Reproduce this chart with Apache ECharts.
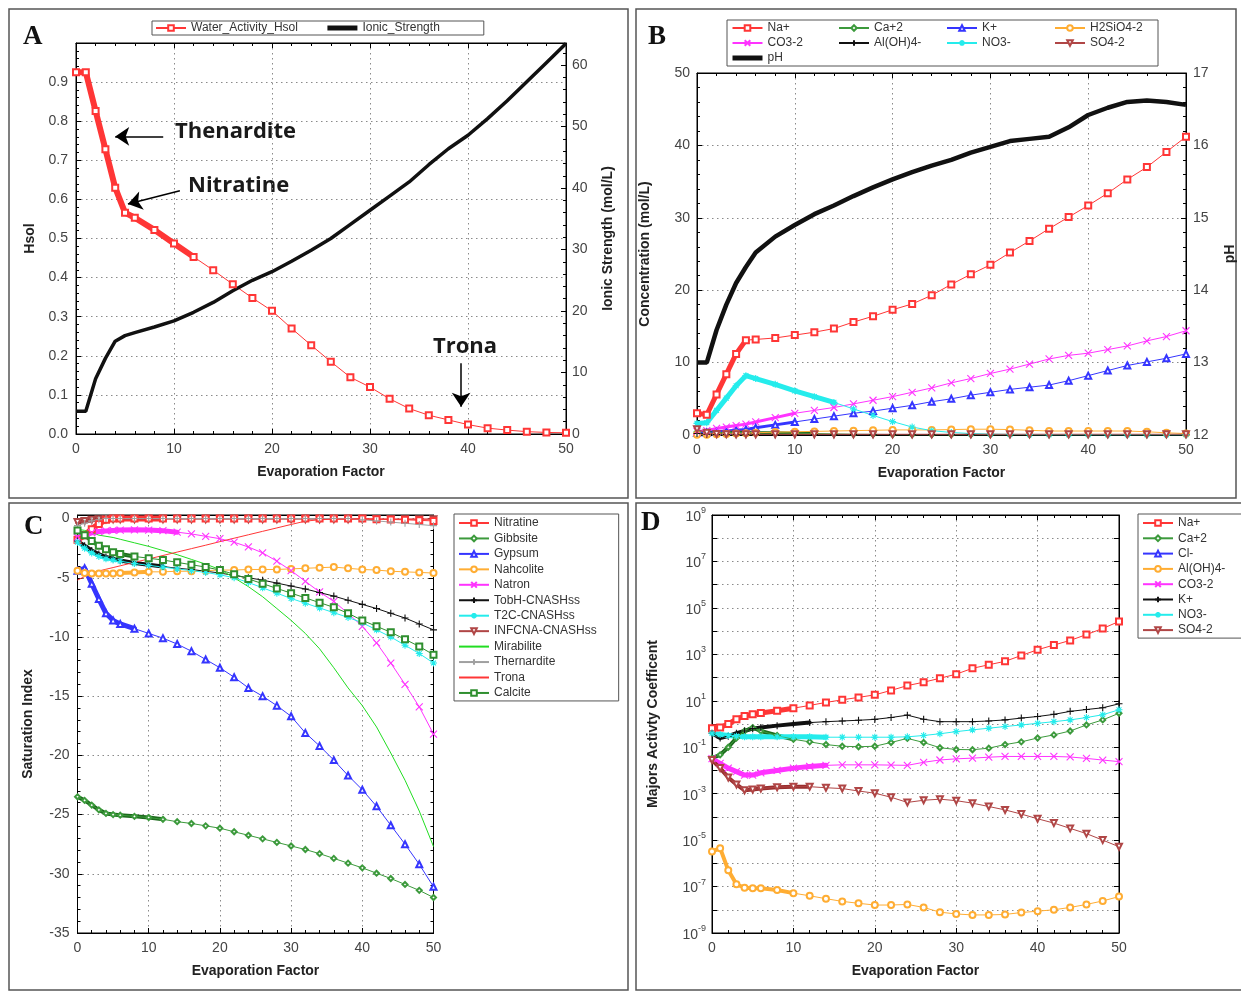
<!DOCTYPE html>
<html>
<head>
<meta charset="utf-8">
<script src="https://cdn.jsdelivr.net/npm/echarts@6/dist/echarts.min.js"></script>
<style>
html, body { margin: 0; padding: 0; background: #fff; }
#chartDiv { width: 1241px; height: 993px; }
</style>
</head>
<body>
<div id="chartDiv"></div>
<script>
// 初始化图表
let myChart = echarts.init(document.getElementById('chartDiv'));
window.onresize = myChart.resize;

// Evaporation Factor (shared x samples)
const EF = [0, 1, 2, 3, 4, 5, 6, 8, 10, 12, 14, 16, 18, 20, 22, 24, 26, 28, 30, 32, 34, 36, 38, 40, 42, 44, 46, 48, 50];

// A: water activity / ionic strength
const hsol = [0.925, 0.925, 0.826, 0.728, 0.63, 0.566, 0.553, 0.522, 0.487, 0.453, 0.419, 0.383, 0.348, 0.315, 0.27, 0.227, 0.185, 0.145, 0.12, 0.09, 0.065, 0.048, 0.036, 0.024, 0.015, 0.01, 0.006, 0.004, 0.003];
const ionic = [3.7, 3.7, 9.0, 12.3, 15.1, 16.0, 16.5, 17.4, 18.4, 19.8, 21.4, 23.3, 25.0, 26.4, 28.1, 29.9, 31.8, 34.1, 36.4, 38.7, 41.0, 43.8, 46.4, 48.6, 51.3, 54.2, 57.3, 60.4, 63.5];

// B: concentrations (mol/L) and pH
const bNa = [3.0, 2.8, 5.6, 8.4, 11.2, 13.1, 13.2, 13.4, 13.8, 14.2, 14.7, 15.6, 16.4, 17.3, 18.1, 19.3, 20.8, 22.2, 23.5, 25.2, 26.8, 28.5, 30.1, 31.7, 33.4, 35.3, 37.0, 39.1, 41.2];
const bCa = [0.4, 0.35, 0.35, 0.35, 0.35, 0.35, 0.3, 0.3, 0.25, 0.2, 0.15, 0.1, 0.08, 0.06, 0.05, 0.05, 0.05, 0.05, 0.05, 0.05, 0.05, 0.05, 0.05, 0.05, 0.05, 0.05, 0.05, 0.05, 0.05];
const bK = [0.3, 0.35, 0.45, 0.55, 0.65, 0.75, 1.0, 1.4, 1.8, 2.2, 2.6, 3.0, 3.3, 3.7, 4.1, 4.6, 5.0, 5.5, 5.9, 6.3, 6.6, 6.9, 7.5, 8.2, 8.9, 9.6, 10.1, 10.6, 11.2];
const bH2SiO4 = [0.05, 0.05, 0.1, 0.15, 0.2, 0.25, 0.3, 0.4, 0.45, 0.5, 0.55, 0.6, 0.65, 0.7, 0.7, 0.7, 0.75, 0.8, 0.8, 0.75, 0.65, 0.55, 0.55, 0.55, 0.55, 0.55, 0.45, 0.3, 0.2];
const bCO3 = [0.5, 0.6, 0.9, 1.1, 1.3, 1.5, 1.8, 2.4, 3.0, 3.4, 3.8, 4.3, 4.8, 5.3, 5.9, 6.5, 7.2, 7.8, 8.5, 9.1, 9.8, 10.5, 11.0, 11.3, 11.8, 12.3, 13.0, 13.6, 14.4];
const bAlOH4 = [0.2, 0.1, 0.05, 0.05, 0.05, 0.05, 0.05, 0.05, 0.05, 0.05, 0.05, 0.05, 0.05, 0.05, 0.05, 0.05, 0.05, 0.05, 0.05, 0.05, 0.05, 0.05, 0.05, 0.05, 0.05, 0.05, 0.05, 0.05, 0.05];
const bNO3 = [1.6, 1.7, 3.4, 5.1, 6.8, 8.2, 7.8, 7.0, 6.1, 5.3, 4.5, 3.6, 2.7, 1.85, 1.1, 0.6, 0.35, 0.2, 0.12, 0.08, 0.06, 0.05, 0.05, 0.05, 0.05, 0.05, 0.05, 0.05, 0.05];
const bSO4 = [0.8, 0.3, 0.15, 0.12, 0.1, 0.1, 0.1, 0.1, 0.1, 0.1, 0.1, 0.1, 0.1, 0.1, 0.1, 0.1, 0.1, 0.1, 0.1, 0.1, 0.1, 0.1, 0.1, 0.1, 0.1, 0.1, 0.1, 0.1, 0.1];
const bPH = [13.0, 13.0, 13.45, 13.8, 14.1, 14.32, 14.52, 14.74, 14.9, 15.05, 15.17, 15.3, 15.42, 15.53, 15.63, 15.72, 15.8, 15.9, 15.98, 16.06, 16.09, 16.12, 16.25, 16.42, 16.52, 16.6, 16.62, 16.6, 16.56];

// C: saturation index
const cNitratine = [-1.8, -1.4, -0.9, -0.45, -0.1, 0, 0, 0, 0, 0, 0, 0, 0, 0, 0, 0, 0, 0, 0, 0, 0, 0, 0, 0, -0.05, -0.08, -0.1, -0.15, -0.2];
const cGibbsite = [-23.5, -23.8, -24.2, -24.6, -24.9, -25.0, -25.05, -25.15, -25.25, -25.4, -25.6, -25.75, -25.95, -26.15, -26.45, -26.75, -27.05, -27.35, -27.65, -27.95, -28.3, -28.7, -29.1, -29.5, -29.95, -30.4, -30.9, -31.4, -32.0];
const cGypsum = [-4.4, -4.2, -5.5, -6.8, -8.0, -8.6, -8.9, -9.3, -9.7, -10.1, -10.6, -11.2, -11.9, -12.6, -13.4, -14.3, -15.0, -15.8, -16.7, -18.1, -19.2, -20.4, -21.7, -22.9, -24.3, -25.9, -27.5, -29.2, -31.1];
const cNahcolite = [-4.4, -4.6, -4.65, -4.65, -4.65, -4.65, -4.6, -4.55, -4.5, -4.5, -4.45, -4.45, -4.4, -4.35, -4.35, -4.3, -4.3, -4.3, -4.25, -4.2, -4.15, -4.1, -4.2, -4.3, -4.35, -4.45, -4.5, -4.55, -4.6];
const cNatron = [-1.6, -1.4, -1.2, -1.1, -1.05, -1.0, -0.97, -0.95, -0.97, -1.02, -1.15, -1.3, -1.5, -1.7, -2.0, -2.4, -2.9, -3.6, -4.4, -5.3, -6.2, -7.0, -8.0, -9.1, -10.5, -12.2, -14.0, -15.9, -18.2];
const cTobH = [-1.9, -2.3, -2.7, -3.0, -3.25, -3.4, -3.55, -3.75, -3.9, -4.05, -4.2, -4.3, -4.45, -4.6, -4.8, -5.0, -5.2, -5.45, -5.7, -5.95, -6.25, -6.55, -6.9, -7.25, -7.6, -8.0, -8.4, -8.9, -9.4];
const cT2C = [-2.0, -2.5, -2.9, -3.2, -3.4, -3.5, -3.6, -3.8, -3.95, -4.1, -4.25, -4.4, -4.55, -4.75, -5.0, -5.4, -5.85, -6.3, -6.75, -7.15, -7.55, -7.95, -8.35, -8.8, -9.4, -10.0, -10.7, -11.4, -12.2];
const cINFCNA = [-0.3, -0.2, -0.1, -0.05, -0.05, -0.05, -0.05, -0.05, -0.05, -0.05, -0.05, -0.05, -0.05, -0.05, -0.05, -0.05, -0.05, -0.05, -0.05, -0.05, -0.05, -0.05, -0.05, -0.05, -0.05, -0.05, -0.05, -0.05, -0.05];
const cMirabilite = [-0.9, -1.0, -1.2, -1.4, -1.5, -1.6, -1.75, -2.05, -2.35, -2.7, -3.05, -3.45, -3.85, -4.3, -5.0, -5.75, -6.6, -7.6, -8.6, -9.7, -11.0, -12.6, -14.3, -15.8, -17.6, -19.8, -22.1, -24.7, -27.7];
const cThernardite = [-0.6, -0.4, -0.2, -0.1, 0, 0, 0, 0, 0, 0, 0, 0, 0, 0, 0, 0, 0, 0, 0, 0, 0, 0, 0, -0.1, -0.2, -0.3, -0.4, -0.5, -0.6];
const cTrona = [-5.2, -4.9, -4.6, -4.43, -4.28, -4.14, -3.99, -3.7, -3.41, -3.12, -2.83, -2.54, -2.25, -1.95, -1.66, -1.37, -1.08, -0.79, -0.5, -0.22, -0.1, -0.05, -0.05, -0.05, -0.05, -0.05, -0.05, -0.05, -0.05];
const cCalcite = [-1.0, -1.4, -1.9, -2.3, -2.6, -2.85, -3.0, -3.2, -3.35, -3.5, -3.7, -3.9, -4.1, -4.35, -4.7, -5.1, -5.5, -5.9, -6.3, -6.7, -7.1, -7.5, -8.0, -8.6, -9.1, -9.6, -10.2, -10.8, -11.5];

// D: activity coefficients (log axis)
const dNa = [0.66, 0.71, 1.0, 1.6, 2.2, 2.6, 3.0, 3.7, 4.8, 6.3, 8.5, 11, 14, 18, 28, 45, 63, 93, 140, 250, 355, 500, 890, 1580, 2510, 3980, 7080, 13000, 26000];
const dCa = [0.034, 0.047, 0.1, 0.25, 0.5, 0.7, 0.5, 0.32, 0.22, 0.17, 0.13, 0.11, 0.105, 0.11, 0.16, 0.24, 0.16, 0.095, 0.08, 0.078, 0.091, 0.13, 0.17, 0.25, 0.34, 0.5, 0.91, 1.5, 2.9];
const dCl = [];
const dAlOH4 = [3.2e-6, 4.5e-6, 5e-7, 1.26e-7, 8.9e-8, 8.5e-8, 8.5e-8, 7.1e-8, 5.2e-8, 4e-8, 3e-8, 2.3e-8, 1.9e-8, 1.6e-8, 1.6e-8, 1.7e-8, 1.26e-8, 7.9e-9, 6.6e-9, 6e-9, 6e-9, 6.3e-9, 7.6e-9, 8.7e-9, 1e-8, 1.26e-8, 1.7e-8, 2.4e-8, 3.7e-8];
const dCO3 = [0.032, 0.02, 0.0126, 0.0089, 0.0063, 0.0063, 0.0079, 0.01, 0.0126, 0.0148, 0.0166, 0.0174, 0.0174, 0.0174, 0.017, 0.0166, 0.0224, 0.0282, 0.0316, 0.0339, 0.0372, 0.04, 0.04, 0.04, 0.04, 0.038, 0.033, 0.028, 0.024];
const dK = [0.4, 0.25, 0.3, 0.4, 0.5, 0.63, 0.7, 0.85, 1.0, 1.15, 1.26, 1.35, 1.45, 1.58, 1.9, 2.4, 1.6, 1.26, 1.26, 1.26, 1.35, 1.5, 1.8, 2.1, 2.6, 3.5, 4.2, 5.0, 7.4];
const dNO3 = [0.4, 0.35, 0.32, 0.3, 0.28, 0.28, 0.28, 0.28, 0.28, 0.28, 0.27, 0.27, 0.27, 0.27, 0.27, 0.28, 0.32, 0.38, 0.47, 0.56, 0.66, 0.78, 0.91, 1.07, 1.26, 1.5, 1.9, 2.5, 4.1];
const dSO4 = [0.028, 0.0126, 0.005, 0.0025, 0.0014, 0.0015, 0.00166, 0.0019, 0.002, 0.002, 0.0018, 0.00166, 0.0013, 0.00105, 0.0007, 0.00042, 0.00052, 0.00058, 0.0005, 0.00039, 0.00028, 0.0002, 0.000132, 8.3e-5, 5.4e-5, 3.2e-5, 1.9e-5, 1e-5, 5.2e-6];

// 颜色 / 符号
const FONT = 'Liberation Sans, Arial, sans-serif';
const RED = '#ff3636', GREEN = '#3c9a3c', BLUE = '#3535ff', ORANGE = '#ffad33', MAGENTA = '#ff33ff';
const BLACK = '#111111', CYAN = '#25ecec', BROWN = '#b04646', LIME = '#22dd22', GRAY = '#a0a0a0', DKGREEN = '#2f8f2f';
const SYM_X = 'path://M0,0L10,10M10,0L0,10';
const SYM_PLUS = 'path://M5,0L5,10M0,5L10,5';
const SYM_STAR = 'path://M5,0L5,10M0,5L10,5M1.5,1.5L8.5,8.5M8.5,1.5L1.5,8.5';

function mkLine(name, ys, color, symbol, size, xi, yi, more) {
    let isPath = symbol.indexOf('path://') === 0;
    let s = {
        name: name,
        type: 'line',
        xAxisIndex: xi,
        yAxisIndex: yi,
        data: EF.filter((x, i) => i < ys.length).map((x, i) => [x, ys[i]]),
        symbol: symbol,
        symbolSize: size,
        showSymbol: symbol !== 'none',
        showAllSymbol: true,
        lineStyle: {color: color, width: 1},
        itemStyle: isPath ? {color: 'rgba(0,0,0,0)', borderColor: color, borderWidth: 1.1}
                          : {color: color, borderWidth: 1},
        emphasis: {disabled: true},
        clip: false,
        z: 3
    };
    return Object.assign(s, more || {});
}

// dense early points in the original read as a thick band: same values, wide stroke
function band(src, upto, width, color) {
    return {
        name: src.name, type: 'line',
        xAxisIndex: src.xAxisIndex, yAxisIndex: src.yAxisIndex,
        data: src.data.slice(0, upto + 1),
        symbol: 'none', clip: false, z: 2,
        lineStyle: {color: color || src.lineStyle.color, width: width, cap: 'round', join: 'round'},
        emphasis: {disabled: true}
    };
}

const labelStyle = {color: '#444', fontSize: 14, fontFamily: FONT};
const nameStyle = {color: '#222', fontSize: 14, fontWeight: 'bold', fontFamily: FONT};
const dotted = {show: true, lineStyle: {color: '#8a8a8a', width: 1, type: [1.5, 3.5]}};

function xAxisOf(grid, name, top) {
    return {
        type: 'value', gridIndex: grid, min: 0, max: 50, interval: 10,
        position: top ? 'top' : 'bottom',
        name: top ? '' : name, nameLocation: 'middle', nameGap: 31, nameTextStyle: nameStyle,
        axisLine: {onZero: false, lineStyle: {color: '#000'}},
        axisTick: {inside: true, length: 5, lineStyle: {color: '#000'}},
        minorTick: {show: true, splitNumber: 5, length: 3, lineStyle: {color: '#000'}},
        axisLabel: top ? {show: false} : Object.assign({margin: 8}, labelStyle),
        splitLine: top ? {show: false} : dotted
    };
}

function yAxisOf(grid, opt) {
    return Object.assign({
        type: 'value', gridIndex: grid,
        nameLocation: 'middle', nameTextStyle: nameStyle,
        axisLine: {onZero: false, lineStyle: {color: '#000'}},
        axisTick: {inside: true, length: 5, lineStyle: {color: '#000'}},
        minorTick: {show: true, splitNumber: 5, length: 3, lineStyle: {color: '#000'}},
        axisLabel: Object.assign({margin: 7}, labelStyle),
        splitLine: {show: false}
    }, opt);
}

const logLabel = {
    margin: 6,
    formatter: function (v) {
        let e = Math.round(Math.log10(v));
        return (e % 2 !== 0) ? '{b|10}{s|' + e + '}' : '';
    },
    rich: {
        b: {fontSize: 14, color: '#444', fontFamily: FONT, lineHeight: 18, verticalAlign: 'bottom'},
        s: {fontSize: 9, color: '#444', fontFamily: FONT, lineHeight: 8, verticalAlign: 'top'}
    }
};

// 坐标系
let grids = [
    {left: 76, top: 43, width: 490, height: 391},
    {left: 697, top: 73, width: 489, height: 362},
    {left: 77.5, top: 515, width: 356, height: 418},
    {left: 712, top: 515, width: 407, height: 418}
].map(g => Object.assign({show: true, borderColor: '#000', borderWidth: 1, backgroundColor: 'transparent'}, g));

let xAxes = [
    xAxisOf(0, 'Evaporation Factor', false), xAxisOf(0, '', true),
    xAxisOf(1, 'Evaporation Factor', false), xAxisOf(1, '', true),
    xAxisOf(2, 'Evaporation Factor', false), xAxisOf(2, '', true),
    xAxisOf(3, 'Evaporation Factor', false), xAxisOf(3, '', true)
];

let yAxes = [
    yAxisOf(0, {name: 'Hsol', nameGap: 39, min: 0, max: 1.0, interval: 0.1, splitLine: dotted,
        axisLabel: Object.assign({margin: 8, formatter: v => v > 0.95 ? '' : v.toFixed(1)}, labelStyle)}),
    yAxisOf(0, {name: 'Ionic Strength (mol/L)', nameGap: 35, position: 'right', min: 0, max: 63.6, interval: 10,
        axisLabel: Object.assign({margin: 6, formatter: v => v % 10 === 0 ? v : ''}, labelStyle)}),
    yAxisOf(1, {name: 'Concentration (mol/L)', nameGap: 45, min: 0, max: 50, interval: 10, splitLine: dotted}),
    yAxisOf(1, {name: 'pH', nameGap: 37, position: 'right', min: 12, max: 17, interval: 1}),
    yAxisOf(2, {name: 'Saturation Index', nameGap: 42, min: -35, max: 0.3, interval: 5, splitLine: dotted,
        axisLabel: Object.assign({margin: 8, formatter: v => v % 5 === 0 ? v : ''}, labelStyle)}),
    yAxisOf(2, {position: 'right', min: -35, max: 0.3, interval: 5, axisLabel: {show: false}}),
    yAxisOf(3, {type: 'log', logBase: 10, name: 'Majors Activty Coefficent', nameGap: 52,
        min: 1e-9, max: 1e9, interval: 1, splitLine: dotted, minorTick: {show: false}, axisLabel: logLabel}),
    yAxisOf(3, {type: 'log', logBase: 10, position: 'right', min: 1e-9, max: 1e9, interval: 1,
        minorTick: {show: false}, axisLabel: {show: false}})
];

// 系列
let sHsol = mkLine('Water_Activity_Hsol', hsol, RED, 'emptyRect', 6, 0, 0, {
    markLine: {
        silent: true, animation: false,
        symbol: ['none', 'arrow'], symbolSize: 14,
        label: {show: false},
        lineStyle: {color: '#000', width: 1.5, type: 'solid'},
        data: [
            [{coord: [8.9, 0.761]}, {coord: [4.0, 0.761]}],
            [{coord: [10.6, 0.622]}, {coord: [5.3, 0.588]}],
            [{coord: [39.3, 0.181]}, {coord: [39.3, 0.07]}]
        ]
    }
});
let sIonic = mkLine('Ionic_Strength', ionic, BLACK, 'none', 0, 0, 1, {lineStyle: {color: BLACK, width: 3.5}});

let sBNa = mkLine('Na+', bNa, RED, 'emptyRect', 6, 2, 2);
let sBCa = mkLine('Ca+2', bCa, GREEN, 'emptyDiamond', 5, 2, 2);
let sBK = mkLine('K+', bK, BLUE, 'emptyTriangle', 6, 2, 2);
let sBH2SiO4 = mkLine('H2SiO4-2', bH2SiO4, ORANGE, 'emptyCircle', 6, 2, 2);
let sBCO3 = mkLine('CO3-2', bCO3, MAGENTA, SYM_X, 7, 2, 2);
let sBAl = mkLine('Al(OH)4-', bAlOH4, BLACK, SYM_PLUS, 7, 2, 2);
let sBNO3 = mkLine('NO3-', bNO3, CYAN, SYM_STAR, 7, 2, 2);
let sBSO4 = mkLine('SO4-2', bSO4, BROWN, 'emptyTriangle', 6, 2, 2, {symbolRotate: 180});
let sBPH = mkLine('pH', bPH, BLACK, 'none', 0, 2, 3, {lineStyle: {color: BLACK, width: 4.5}, z: 4});

let sCInf = mkLine('INFCNA-CNASHss', cINFCNA, BROWN, 'emptyTriangle', 6, 4, 4, {symbolRotate: 180});
let sCNit = mkLine('Nitratine', cNitratine, RED, 'emptyRect', 6, 4, 4);
let sCGib = mkLine('Gibbsite', cGibbsite, GREEN, 'emptyDiamond', 5, 4, 4);
let sCGyp = mkLine('Gypsum', cGypsum, BLUE, 'emptyTriangle', 6, 4, 4);
let sCNah = mkLine('Nahcolite', cNahcolite, ORANGE, 'emptyCircle', 6, 4, 4);
let sCNat = mkLine('Natron', cNatron, MAGENTA, SYM_X, 7, 4, 4);
let sCTob = mkLine('TobH-CNASHss', cTobH, BLACK, SYM_PLUS, 7, 4, 4);
let sCT2C = mkLine('T2C-CNASHss', cT2C, CYAN, SYM_STAR, 7, 4, 4);
let sCMir = mkLine('Mirabilite', cMirabilite, LIME, 'none', 0, 4, 4);
let sCThe = mkLine('Thernardite', cThernardite, GRAY, SYM_PLUS, 7, 4, 4);
let sCTro = mkLine('Trona', cTrona, RED, 'none', 0, 4, 4);
let sCCal = mkLine('Calcite', cCalcite, DKGREEN, 'emptyRect', 6, 4, 4);

let sDNa = mkLine('D:Na+', dNa, RED, 'emptyRect', 6, 6, 6);
let sDCa = mkLine('D:Ca+2', dCa, GREEN, 'emptyDiamond', 5, 6, 6);
let sDCl = mkLine('D:Cl-', dCl, BLUE, 'emptyTriangle', 6, 6, 6);
let sDAl = mkLine('D:Al(OH)4-', dAlOH4, ORANGE, 'emptyCircle', 6, 6, 6);
let sDCO3 = mkLine('D:CO3-2', dCO3, MAGENTA, SYM_X, 7, 6, 6);
let sDK = mkLine('D:K+', dK, BLACK, SYM_PLUS, 7, 6, 6);
let sDNO3 = mkLine('D:NO3-', dNO3, CYAN, SYM_STAR, 7, 6, 6);
let sDSO4 = mkLine('D:SO4-2', dSO4, BROWN, 'emptyTriangle', 6, 6, 6, {symbolRotate: 180});

let series = [
    sHsol, sIonic, band(sHsol, 9, 6),
    sBNa, sBCa, sBK, sBH2SiO4, sBCO3, sBAl, sBNO3, sBSO4, sBPH,
    band(sBNa, 5, 5), band(sBNO3, 10, 5), band(sBCO3, 8, 3), band(sBK, 8, 3), band(sBCa, 9, 3, '#1d6b1d'),
    sCInf, sCNit, sCGib, sCGyp, sCNah, sCNat, sCTob, sCT2C, sCMir, sCThe, sCTro, sCCal,
    band(sCInf, 6, 5, '#a03030'), band(sCNit, 9, 6), band(sCGyp, 7, 5), band(sCGib, 9, 4, '#1d6b1d'),
    band(sCCal, 7, 4, '#1d6b1d'), band(sCTob, 9, 4), band(sCT2C, 6, 3), band(sCNah, 8, 4), band(sCNat, 10, 5),
    sDNa, sDCa, sDCl, sDAl, sDCO3, sDK, sDNO3, sDSO4,
    band(sDNa, 8, 5), band(sDK, 9, 4), band(sDCa, 8, 4, '#1d6b1d'), band(sDNO3, 10, 5),
    band(sDCO3, 10, 5), band(sDSO4, 9, 4, '#9a2e2e'), band(sDAl, 8, 4)
];

// 图例
const legendText = {fontSize: 12, color: '#333', fontFamily: FONT, lineHeight: 12};
const noSym = {opacity: 0};
function colLegend(left, top, names, gap) {
    return {
        orient: 'vertical', left: left, top: top, padding: 0,
        itemWidth: 30, itemHeight: 7, itemGap: gap,
        textStyle: legendText, selectedMode: false, data: names
    };
}
let legends = [
    {orient: 'horizontal', left: 152, top: 21, padding: [1, 44, 1, 3],
     borderColor: '#555', borderWidth: 1, itemWidth: 30, itemHeight: 7, itemGap: 27,
     textStyle: legendText, selectedMode: false,
     data: ['Water_Activity_Hsol', {name: 'Ionic_Strength', itemStyle: noSym, lineStyle: {width: 5}}]},
    colLegend(730, 22, ['Na+', 'CO3-2', {name: 'pH', itemStyle: noSym, lineStyle: {width: 5}}], 3),
    colLegend(838, 22, ['Ca+2', 'Al(OH)4-'], 3),
    colLegend(946, 22, ['K+', 'NO3-'], 3),
    colLegend(1054, 22, ['H2SiO4-2', 'SO4-2'], 3),
    Object.assign(colLegend(454, 514, ['Nitratine', 'Gibbsite', 'Gypsum', 'Nahcolite', 'Natron', 'TobH-CNASHss',
        'T2C-CNASHss', 'INFCNA-CNASHss', {name: 'Mirabilite', itemStyle: noSym}, 'Thernardite',
        {name: 'Trona', itemStyle: noSym}, 'Calcite'], 3.45),
        {padding: [3, 22, 2, 4], borderColor: '#555', borderWidth: 1}),
    Object.assign(colLegend(1138, 514, ['D:Na+', 'D:Ca+2', 'D:Cl-', 'D:Al(OH)4-', 'D:CO3-2', 'D:K+', 'D:NO3-', 'D:SO4-2'], 3.3),
        {padding: [3, 60, 2, 4], borderColor: '#555', borderWidth: 1, formatter: n => n.replace('D:', '')})
];

// 边框、字母、注释
const frame = {fill: 'none', stroke: '#555', lineWidth: 1.5};
const letter = {fontFamily: 'Liberation Serif, Times New Roman, serif', fontSize: 27, fontWeight: 'bold', fill: '#111'};
const note = {fontFamily: 'Open Sans, Noto Sans, sans-serif', fontSize: 22, fontWeight: 'bold', fill: '#1a1a1a'};
let graphics = [
    {type: 'rect', shape: {x: 9, y: 9, width: 619, height: 489}, style: frame, silent: true},
    {type: 'rect', shape: {x: 636, y: 9, width: 600, height: 489}, style: frame, silent: true},
    {type: 'rect', shape: {x: 9, y: 503, width: 619, height: 487}, style: frame, silent: true},
    {type: 'rect', shape: {x: 636, y: 503, width: 610, height: 487}, style: frame, silent: true},
    {type: 'rect', shape: {x: 727, y: 20, width: 431, height: 46}, style: {fill: 'none', stroke: '#555', lineWidth: 1}, silent: true},
    {type: 'text', left: 23, top: 24, style: Object.assign({text: 'A'}, letter)},
    {type: 'text', left: 648, top: 24, style: Object.assign({text: 'B'}, letter)},
    {type: 'text', left: 24, top: 514, style: Object.assign({text: 'C'}, letter)},
    {type: 'text', left: 641, top: 510, style: Object.assign({text: 'D'}, letter)},
    {type: 'text', left: 175, top: 121, style: Object.assign({text: 'Thenardite'}, note)},
    {type: 'text', left: 188, top: 175, style: Object.assign({text: 'Nitratine'}, note)},
    {type: 'text', left: 433, top: 336, style: Object.assign({text: 'Trona'}, note)}
];

// 图表设置
let option = {
    backgroundColor: '#ffffff',
    animation: false,
    textStyle: {fontFamily: FONT},
    grid: grids,
    xAxis: xAxes,
    yAxis: yAxes,
    legend: legends,
    graphic: graphics,
    series: series
};
myChart.setOption(option);
</script>
</body>
</html>
